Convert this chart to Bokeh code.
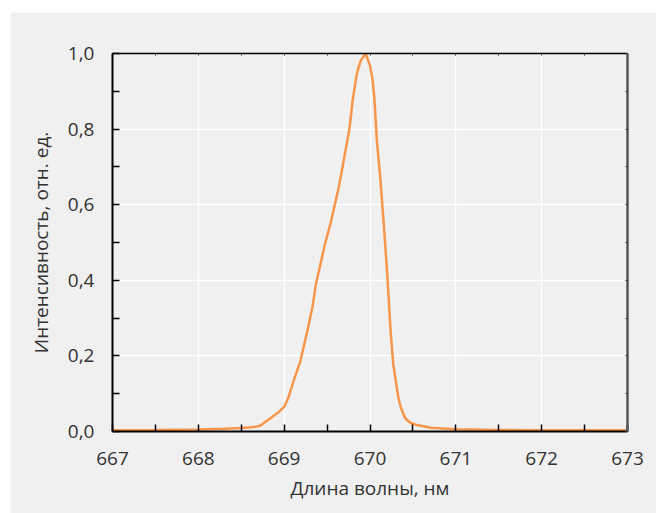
from bokeh.plotting import figure
from bokeh.models import Range1d, FixedTicker, LinearAxis, CustomJSTickFormatter
from bokeh.embed import file_html
from bokeh.resources import INLINE

# Data
wavelength = [666.96, 667.5, 668.0, 668.3, 668.5, 668.62, 668.72, 668.84, 668.93, 669.0,
              669.05, 669.11, 669.19, 669.27, 669.33, 669.37, 669.42, 669.48, 669.54, 669.59,
              669.64, 669.68, 669.72, 669.76, 669.80, 669.85, 669.89, 669.95, 670.0, 670.03,
              670.05, 670.08, 670.12, 670.16, 670.20, 670.24, 670.27, 670.30, 670.33, 670.36,
              670.41, 670.47, 670.55, 670.71, 671.0, 671.5, 672.0, 672.5, 673.04]
intensity = [0.003, 0.004, 0.005, 0.007, 0.009, 0.011, 0.015, 0.035, 0.05, 0.065,
             0.09, 0.134, 0.187, 0.266, 0.33, 0.39, 0.44, 0.50, 0.55, 0.60,
             0.65, 0.70, 0.75, 0.80, 0.88, 0.95, 0.98, 1.0, 0.968, 0.93,
             0.884, 0.77, 0.67, 0.55, 0.42, 0.266, 0.18, 0.134, 0.09, 0.063,
             0.035, 0.023, 0.017, 0.01, 0.006, 0.004, 0.003, 0.003, 0.003]

x_ticks = [667, 668, 669, 670, 671, 672, 673]
x_tick_labels = ["667", "668", "669", "670", "671", "672", "673"]
x_minor_ticks = [667.5, 668.5, 669.5, 670.5, 671.5, 672.5]
y_ticks = [0.0, 0.2, 0.4, 0.6, 0.8, 1.0]
y_tick_labels = ["0,0", "0,2", "0,4", "0,6", "0,8", "1,0"]
y_minor_ticks = [0.1, 0.3, 0.5, 0.7, 0.9]
x_grid = [668, 669, 670, 671, 672]
y_grid = [0.2, 0.4, 0.6, 0.8]

BG = "#f0f0f0"
FONT = "Open Sans"
TXT = "#333333"

p = figure(width=646, height=501, output_backend="svg", toolbar_location=None,
           x_range=Range1d(667, 673), y_range=Range1d(0, 1),
           min_border_left=102, min_border_top=41, min_border_right=29, min_border_bottom=82,
           background_fill_color=BG, border_fill_color=BG, outline_line_color=None)
p.margin = (12, 0, 0, 10)

p.line(wavelength, intensity, line_color="#f7964a", line_width=2.5)

# grids
p.xgrid.ticker = FixedTicker(ticks=x_grid)
p.ygrid.ticker = FixedTicker(ticks=y_grid)
for g in (p.xgrid, p.ygrid):
    g.grid_line_color = "white"
    g.grid_line_width = 1.5

# bottom axis
xa = p.xaxis[0]
xa.ticker = FixedTicker(ticks=x_ticks, minor_ticks=x_minor_ticks)
xa.major_label_overrides = {t: l for t, l in zip(x_ticks, x_tick_labels)}
xa.axis_label = "Длина волны, нм"
# left axis
ya = p.yaxis[0]
ya.ticker = FixedTicker(ticks=y_ticks, minor_ticks=y_minor_ticks)
ya.major_label_overrides = {t: l for t, l in zip(y_ticks, y_tick_labels)}
ya.axis_label = "Интенсивность, отн. ед."

for a in (xa, ya):
    a.axis_line_color = "black"
    a.axis_line_width = 2
    a.major_tick_line_color = "black"
    a.minor_tick_line_color = "black"
    a.major_tick_line_width = 1.5
    a.minor_tick_line_width = 1.5
    a.major_tick_in = 7
    a.major_tick_out = 0
    a.minor_tick_in = 7
    a.minor_tick_out = 0
    a.major_label_text_font = FONT
    a.major_label_text_font_size = "19px"
    a.major_label_text_color = TXT
    a.axis_label_text_font = FONT
    a.axis_label_text_font_size = "19px"
    a.axis_label_text_font_style = "normal"
    a.axis_label_text_color = TXT

xa.major_label_standoff = 20
xa.axis_label_standoff = 7
ya.major_label_standoff = 18
ya.axis_label_standoff = 11

# top and right frame axes (no labels)
top = LinearAxis(ticker=FixedTicker(ticks=x_ticks, minor_ticks=x_minor_ticks),
                 formatter=CustomJSTickFormatter(code="return ''"), major_label_standoff=0,
                 axis_line_color="black", axis_line_width=1.5,
                 major_tick_in=2, major_tick_out=0, minor_tick_in=2, minor_tick_out=0,
                 major_tick_line_color="#333333", minor_tick_line_color="#333333")
right = LinearAxis(ticker=FixedTicker(ticks=y_ticks, minor_ticks=y_minor_ticks),
                   formatter=CustomJSTickFormatter(code="return ''"), major_label_standoff=0,
                   axis_line_color="#555555", axis_line_width=2.5,
                   major_tick_in=2, major_tick_out=0, minor_tick_in=2, minor_tick_out=0,
                   major_tick_line_color="#333333", minor_tick_line_color="#333333")
p.add_layout(top, "above")
p.add_layout(right, "right")

open("out.html", "w").write(file_html(p, INLINE))
